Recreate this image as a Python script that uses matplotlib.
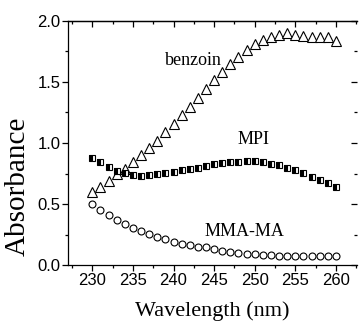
#!/usr/bin/env python3
"""UV absorbance spectra of benzoin, MPI and MMA-MA."""
import matplotlib
matplotlib.use("Agg")
import matplotlib.pyplot as plt
from matplotlib.ticker import MultipleLocator

wavelength = list(range(230, 261))
benzoin = [0.60, 0.64, 0.685, 0.745, 0.79, 0.845, 0.90, 0.957, 1.02, 1.09,
           1.152, 1.226, 1.298, 1.372, 1.44, 1.514, 1.578, 1.646, 1.706, 1.761,
           1.808, 1.844, 1.871, 1.887, 1.899, 1.887, 1.874, 1.871, 1.871, 1.871,
           1.833]
mpi = [0.878, 0.845, 0.804, 0.768, 0.752, 0.741, 0.733, 0.738, 0.743, 0.755,
       0.765, 0.776, 0.787, 0.798, 0.815, 0.829, 0.837, 0.842, 0.848, 0.85,
       0.85, 0.845, 0.831, 0.817, 0.798, 0.776, 0.752, 0.724, 0.697, 0.669,
       0.642]
mma_ma = [0.496, 0.45, 0.409, 0.37, 0.335, 0.302, 0.277, 0.253, 0.233, 0.214,
          0.192, 0.175, 0.162, 0.151, 0.144, 0.129, 0.118, 0.107, 0.099, 0.093,
          0.088, 0.085, 0.08, 0.077, 0.077, 0.074, 0.074, 0.072, 0.072, 0.072,
          0.072]
xticks = [230, 235, 240, 245, 250, 255, 260]

serif = ["Liberation Serif", "DejaVu Serif"]
plt.rcParams["font.family"] = ["Liberation Sans", "DejaVu Sans"]

fig = plt.figure(figsize=(3.59, 3.22), dpi=100)
ax = fig.add_axes([0.1894, 0.177, 0.805, 0.7578])

ax.plot(wavelength, benzoin, ls="none", marker="^", ms=6.5, mfc="white",
        mec="black", mew=0.8)
ax.plot(wavelength, mpi, ls="none", marker="s", ms=5, mfc="black",
        mfcalt="white", fillstyle="left", mec="black", mew=0.8)
ax.plot(wavelength, mma_ma, ls="none", marker="o", ms=5, mfc="white",
        mec="black", mew=0.8)

ax.text(242.5, 1.64, "benzoin", family=serif, fontsize=13, ha="center",
        va="baseline")
ax.text(249.8, 0.99, "MPI", family=serif, fontsize=13, ha="center",
        va="baseline")
ax.text(248.7, 0.24, "MMA-MA", family=serif, fontsize=13, ha="center",
        va="baseline")

ax.set_xlim(227, 262.6)
ax.set_ylim(0, 2.0)

# bottom/left: outward ticks with labels
ax.set_xticks(xticks)
ax.xaxis.set_minor_locator(MultipleLocator(2.5))
ax.yaxis.set_major_locator(MultipleLocator(0.5))
ax.yaxis.set_minor_locator(MultipleLocator(0.25))
ax.tick_params(which="both", direction="out", labelsize=12, width=0.9, pad=1.5)
ax.tick_params(which="major", length=4)
ax.tick_params(which="minor", length=2.5)
ax.spines["right"].set_visible(False)
for s in ("left", "top", "bottom"):
    ax.spines[s].set_linewidth(0.9)

# top/right: inward ticks, no labels
top = ax.secondary_xaxis("top")
top.set_xticks(xticks)
top.xaxis.set_minor_locator(MultipleLocator(2.5))
top.tick_params(which="both", direction="in", labeltop=False, width=0.9)
top.tick_params(which="major", length=4)
top.tick_params(which="minor", length=2.5)
top.spines["top"].set_linewidth(0.9)

right = ax.secondary_yaxis("right")
right.yaxis.set_major_locator(MultipleLocator(0.5))
right.yaxis.set_minor_locator(MultipleLocator(0.25))
right.tick_params(which="both", direction="in", labelright=False, width=0.9)
right.tick_params(which="major", length=4)
right.tick_params(which="minor", length=2.5)
right.spines["right"].set_visible(False)

ax.set_xlabel("Wavelength (nm)", family=serif, fontsize=16, labelpad=10)
ax.set_ylabel("Absorbance", family=serif, fontsize=21)
ax.yaxis.set_label_coords(-0.128, 0.324)

fig.savefig("out.png", dpi=100)
